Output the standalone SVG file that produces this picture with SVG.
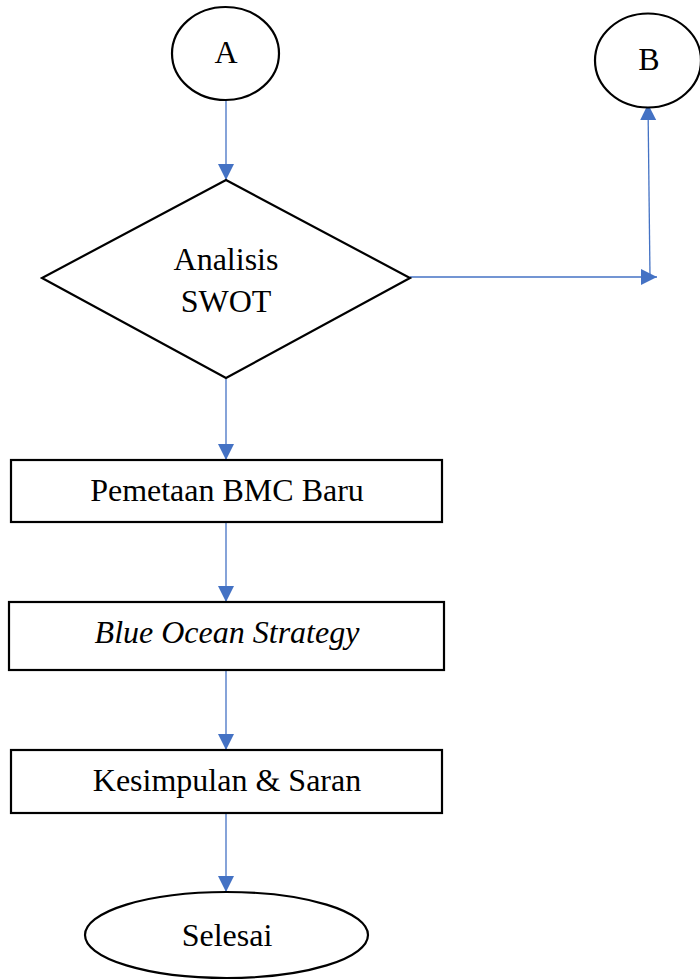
<svg xmlns="http://www.w3.org/2000/svg" width="700" height="980" viewBox="0 0 700 980">
<style>
.shape{fill:#fff;stroke:#000;stroke-width:2.2}
.lbl{font-family:"Liberation Serif","Times New Roman",serif;font-size:32px;fill:#000;text-anchor:middle}
.conn{stroke:#4472C4;stroke-width:1.3;fill:none}
</style>
<defs>
<marker id="ah" markerUnits="userSpaceOnUse" markerWidth="17" markerHeight="17" viewBox="0 0 17 17" refX="16" refY="8.5" orient="auto">
<path d="M0,0.5 L16,8.5 L0,16.5 Z" fill="#4472C4"/>
</marker>
</defs>
<rect width="700" height="980" fill="#fff"/>
<g id="connectors">
<line class="conn" x1="226" y1="100" x2="226" y2="180" marker-end="url(#ah)"/>
<line class="conn" x1="226" y1="378" x2="226" y2="460" marker-end="url(#ah)"/>
<line class="conn" x1="226" y1="522" x2="226" y2="602" marker-end="url(#ah)"/>
<line class="conn" x1="226" y1="670" x2="226" y2="750" marker-end="url(#ah)"/>
<line class="conn" x1="226" y1="813" x2="226" y2="892" marker-end="url(#ah)"/>
<line class="conn" x1="410" y1="277" x2="657" y2="277" marker-end="url(#ah)"/>
<line class="conn" x1="650" y1="277" x2="648" y2="104" marker-end="url(#ah)"/>
</g>
<g id="nodeA">
<ellipse class="shape" cx="225.5" cy="53.5" rx="53.5" ry="46.5"/>
<text class="lbl" x="226" y="63">A</text>
</g>
<g id="nodeB">
<ellipse class="shape" cx="648" cy="60.5" rx="53" ry="47"/>
<text class="lbl" x="649" y="70">B</text>
</g>
<g id="swot">
<polygon class="shape" points="226,180 410,278 226,378 42,278"/>
<text class="lbl" x="226" y="270">Analisis</text>
<text class="lbl" x="226" y="312">SWOT</text>
</g>
<g id="bmc">
<rect class="shape" x="11" y="460" width="431" height="62"/>
<text class="lbl" x="227" y="501">Pemetaan BMC Baru</text>
</g>
<g id="blueocean">
<rect class="shape" x="9" y="602" width="435" height="68"/>
<text class="lbl" x="227" y="643" font-style="italic">Blue Ocean Strategy</text>
</g>
<g id="kesimpulan">
<rect class="shape" x="11" y="750" width="431" height="63"/>
<text class="lbl" x="227" y="791">Kesimpulan &amp; Saran</text>
</g>
<g id="selesai">
<ellipse class="shape" cx="226.5" cy="935" rx="141.5" ry="43"/>
<text class="lbl" x="227" y="946">Selesai</text>
</g>
</svg>
